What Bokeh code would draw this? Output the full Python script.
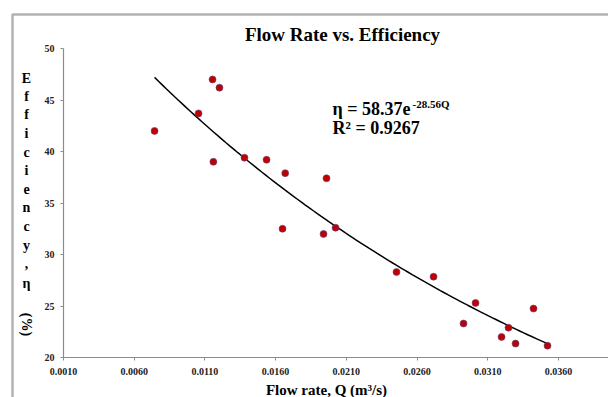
import numpy as np
from bokeh.plotting import figure
from bokeh.models import (Range1d, FixedTicker, NumeralTickFormatter, Label,
                          BoxAnnotation, ColumnDataSource)
from bokeh.embed import file_html
from bokeh.resources import INLINE

# ---- data ----
flow_rate = [0.00744, 0.01055, 0.01154, 0.01203, 0.01160, 0.01380, 0.01536,
             0.01668, 0.01649, 0.01960, 0.01939, 0.02024, 0.02455, 0.02717,
             0.03014, 0.02929, 0.03198, 0.03247, 0.03297, 0.03424, 0.03523]
efficiency = [42.0, 43.7, 47.0, 46.2, 39.0, 39.4, 39.2,
              37.9, 32.5, 37.4, 32.0, 32.6, 28.3, 27.85,
              25.3, 23.3, 22.0, 22.9, 21.35, 24.75, 21.15]
x_ticks = [0.0010, 0.0060, 0.0110, 0.0160, 0.0210, 0.0260, 0.0310, 0.0360]
y_ticks = [20, 25, 30, 35, 40, 45, 50]
fit_a = 58.37
fit_b = 28.56
r_squared = "0.9267"

SERIF = "Liberation Serif"
W, H = 608, 397
# axis geometry (pixels): axes cross at (63, 357); 14140 px per m3/s, 10.3 px per %
X0, Y0, KX, KY = 63, 357, 14140.0, 10.3
x_lo, x_hi = 0.001 - X0 / KX, 0.001 + (W - X0) / KX
y_lo, y_hi = 20 - (H - Y0) / KY, 20 + Y0 / KY

p = figure(width=W, height=H, output_backend="svg", toolbar_location=None,
           x_range=Range1d(x_lo, x_hi), y_range=Range1d(y_lo, y_hi),
           min_border=0)
p.min_border_left = p.min_border_right = p.min_border_top = p.min_border_bottom = 0
p.title.visible = False
p.xgrid.visible = False
p.ygrid.visible = False
p.outline_line_color = None
p.background_fill_color = "white"
p.border_fill_color = "white"

for ax in (p.xaxis[0], p.yaxis[0]):
    ax.axis_line_color = "#8c8c8c"
    ax.axis_line_width = 1.2
    ax.major_tick_line_color = "#8c8c8c"
    ax.major_tick_out = 3
    ax.major_tick_in = 0
    ax.minor_tick_line_color = None
    ax.major_label_text_font = SERIF
    ax.major_label_text_font_style = "bold"
    ax.major_label_text_font_size = "10px"
    ax.major_label_text_color = "#222222"

p.xaxis.ticker = FixedTicker(ticks=x_ticks)
p.xaxis.formatter = NumeralTickFormatter(format="0.0000")
p.xaxis.major_label_standoff = 7
p.xaxis.fixed_location = y_ticks[0]
p.xaxis.bounds = (x_ticks[0], x_hi)
p.yaxis.ticker = FixedTicker(ticks=y_ticks)
p.yaxis.major_label_standoff = 6
p.yaxis.fixed_location = x_ticks[0]
p.yaxis.bounds = (y_ticks[0], y_ticks[-1])

# trendline from the displayed equation
q = np.linspace(min(flow_rate), max(flow_rate), 100)
p.line(q, fit_a * np.exp(-fit_b * q), line_color="black", line_width=1.5)

src = ColumnDataSource(dict(x=flow_rate, y=efficiency))
p.scatter("x", "y", source=src, size=7, fill_color="#c00000",
          line_color="#5a4a8a", line_width=0.6)

# outer frame
p.add_layout(BoxAnnotation(left=12, right=W + 50, top=H - 14, bottom=-50,
                           left_units="screen", right_units="screen",
                           top_units="screen", bottom_units="screen",
                           fill_color=None, line_color="black", line_width=2.5))

def lab(x, y, text, size, angle=0.0, align="center", baseline="middle"):
    # x, y given as page pixels from the top-left corner
    p.add_layout(Label(x=x, y=H - y, x_units="screen", y_units="screen",
                       text=text, text_font=SERIF, text_font_style="bold",
                       text_font_size=size, text_color="black", angle=angle,
                       text_align=align, text_baseline=baseline))

# title
lab(342, 34, "Flow Rate vs. Efficiency", "19px")
# x axis title
lab(326, 389, "Flow rate, Q (m\u00b3/s)", "15px")
# stacked y axis title
letters = ["E", "f", "f", "i", "c", "i", "e", "n", "c", "y", ",", "\u03b7"]
ys = [78, 96, 114, 133, 152, 170, 188, 207, 226, 245, 262, 283]
for ch, yy in zip(letters, ys):
    lab(26, yy, ch, "14px")
lab(26, 324, "(%)", "14px", angle=-np.pi / 2)

# equation
lab(332, 108, "\u03b7 = 58.37e", "18px", align="left")
lab(412, 103, "-28.56Q", "11px", align="left")
lab(332, 127, "R\u00b2 = " + r_squared, "18px", align="left")

open("out.html", "w").write(file_html(p, INLINE))
